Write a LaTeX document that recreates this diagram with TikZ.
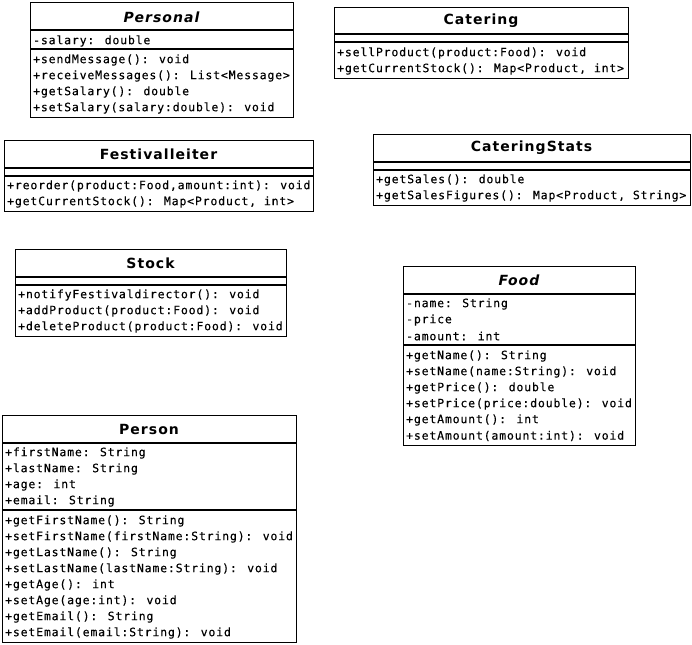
\documentclass[tikz,border=0pt]{standalone}
\usepackage{fontspec}
\newfontfamily\titlef[LetterSpace=7.4]{DejaVu Sans}
\newfontfamily\monof[LetterSpace=7.2,FakeBold=0.2]{DejaVu Sans Mono}
\begin{document}
\begin{tikzpicture}[x=1pt,y=-1pt,
  box/.style={draw, line width=1.4pt, anchor=north west, inner sep=0pt},
  sep/.style={line width=1.4pt},
  ttl/.style={font=\titlef\bfseries\fontsize{14}{14}\selectfont, inner sep=0pt, anchor=center, yshift=-1pt},
  ittl/.style={font=\titlef\bfseries\itshape\fontsize{14}{14}\selectfont, inner sep=0pt, anchor=center, yshift=-1pt},
  mem/.style={font=\monof\fontsize{11.5}{11.5}\selectfont, inner sep=0pt, anchor=west, yshift=-1pt}]
\useasboundingbox (0,0) rectangle (692,644);
\fill[white] (0,0) rectangle (692,644);

% Personal
\node[box, minimum width=263pt, minimum height=115pt] (personal) at (30,2) {};
\draw[sep] (30,30) -- (293,30) (30,49) -- (293,49);
\node[ittl] (personalT) at (161.5,16) {Personal};
\node[mem] (p1) at (33,40) {-salary: double};
\node[mem] (p2) at (33,59) {+sendMessage(): void};
\node[mem] (p3) at (33,75) {+receiveMessages(): List<Message>};
\node[mem] (p4) at (33,91) {+getSalary(): double};
\node[mem] (p5) at (33,107) {+setSalary(salary:double): void};

% Catering
\node[box, minimum width=294pt, minimum height=71pt] (catering) at (334,7) {};
\draw[sep] (334,34) -- (628,34) (334,42) -- (628,42);
\node[ttl] (cateringT) at (481,20) {Catering};
\node[mem] (c1) at (337,52) {+sellProduct(product:Food): void};
\node[mem] (c2) at (337,68) {+getCurrentStock(): Map<Product, int>};

% Festivalleiter
\node[box, minimum width=309pt, minimum height=71pt] (festival) at (4,140) {};
\draw[sep] (4,168) -- (313,168) (4,176) -- (313,176);
\node[ttl] (festivalT) at (158.5,153) {Festivalleiter};
\node[mem] (f1) at (7,185) {+reorder(product:Food,amount:int): void};
\node[mem] (f2) at (7,201) {+getCurrentStock(): Map<Product, int>};

% CateringStats
\node[box, minimum width=317pt, minimum height=71pt] (stats) at (373,134) {};
\draw[sep] (373,162) -- (690,162) (373,170) -- (690,170);
\node[ttl] (statsT) at (531.5,147) {CateringStats};
\node[mem] (s1) at (376,179) {+getSales(): double};
\node[mem] (s2) at (376,195) {+getSalesFigures(): Map<Product, String>};

% Stock
\node[box, minimum width=271pt, minimum height=87pt] (stock) at (15,249) {};
\draw[sep] (15,277) -- (286,277) (15,285) -- (286,285);
\node[ttl] (stockT) at (150.5,262) {Stock};
\node[mem] (k1) at (18,294) {+notifyFestivaldirector(): void};
\node[mem] (k2) at (18,310) {+addProduct(product:Food): void};
\node[mem] (k3) at (18,326) {+deleteProduct(product:Food): void};

% Food
\node[box, minimum width=232pt, minimum height=179pt] (food) at (403,266) {};
\draw[sep] (403,294) -- (635,294) (403,345) -- (635,345);
\node[ittl] (foodT) at (519,279) {Food};
\node[mem] (d1) at (406,303) {-name: String};
\node[mem] (d2) at (406,319) {-price};
\node[mem] (d3) at (406,335) {-amount: int};
\node[mem] (d4) at (406,355) {+getName(): String};
\node[mem] (d5) at (406,371) {+setName(name:String): void};
\node[mem] (d6) at (406,387) {+getPrice(): double};
\node[mem] (d7) at (406,403) {+setPrice(price:double): void};
\node[mem] (d8) at (406,419) {+getAmount(): int};
\node[mem] (d9) at (406,435) {+setAmount(amount:int): void};

% Person
\node[box, minimum width=294pt, minimum height=227pt] (person) at (2,415) {};
\draw[sep] (2,443) -- (296,443) (2,510) -- (296,510);
\node[ttl] (personT) at (149,428) {Person};
\node[mem] (e1) at (5,452) {+firstName: String};
\node[mem] (e2) at (5,468) {+lastName: String};
\node[mem] (e3) at (5,484) {+age: int};
\node[mem] (e4) at (5,500) {+email: String};
\node[mem] (e5) at (5,520) {+getFirstName(): String};
\node[mem] (e6) at (5,536) {+setFirstName(firstName:String): void};
\node[mem] (e7) at (5,552) {+getLastName(): String};
\node[mem] (e8) at (5,568) {+setLastName(lastName:String): void};
\node[mem] (e9) at (5,584) {+getAge(): int};
\node[mem] (e10) at (5,600) {+setAge(age:int): void};
\node[mem] (e11) at (5,616) {+getEmail(): String};
\node[mem] (e12) at (5,632) {+setEmail(email:String): void};
\end{tikzpicture}
\end{document}
